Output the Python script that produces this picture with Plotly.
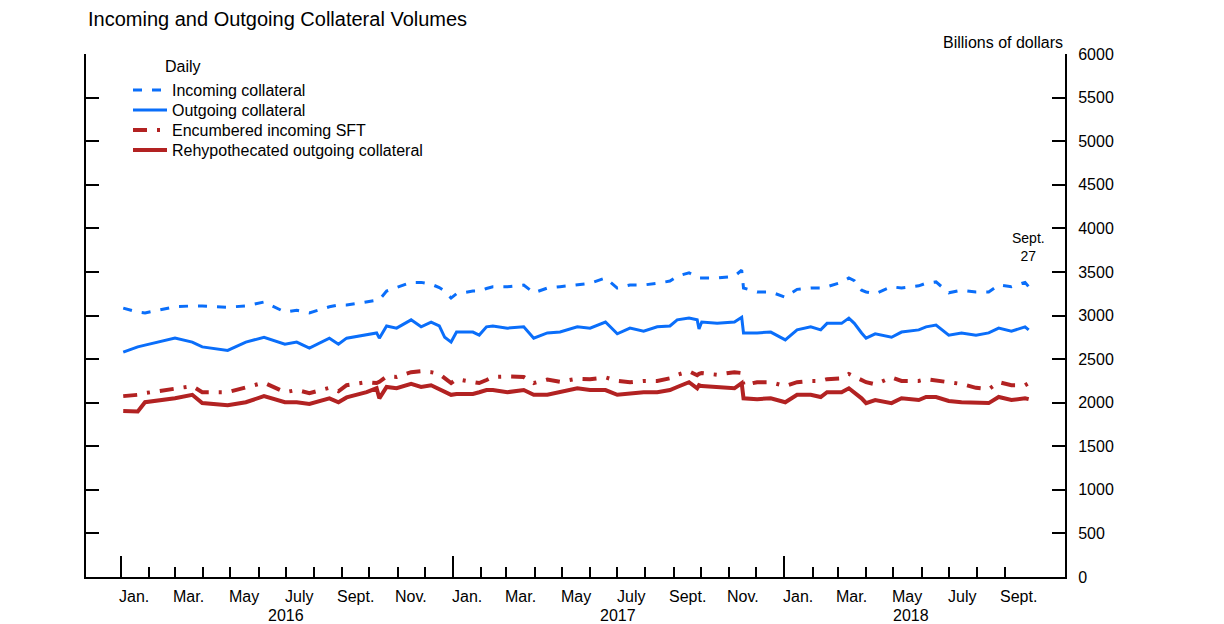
import pandas as pd
import plotly.graph_objects as go

# ---- data (billions of dollars) ----
dates = [
    "2016-01-04", "2016-01-20", "2016-01-28", "2016-03-01", "2016-03-20", "2016-03-31",
    "2016-04-28", "2016-05-18", "2016-06-07", "2016-06-30", "2016-07-13", "2016-07-27",
    "2016-08-18", "2016-08-28", "2016-09-06", "2016-09-28", "2016-10-09", "2016-10-12",
    "2016-10-20", "2016-10-31", "2016-11-16", "2016-11-27", "2016-12-08", "2016-12-17",
    "2016-12-23", "2016-12-30", "2017-01-05", "2017-01-23", "2017-01-30", "2017-02-07",
    "2017-02-14", "2017-03-02", "2017-03-20", "2017-03-31", "2017-04-15", "2017-04-29",
    "2017-05-18", "2017-06-01", "2017-06-18", "2017-07-01", "2017-07-15", "2017-07-30",
    "2017-08-14", "2017-08-28", "2017-09-05", "2017-09-18", "2017-09-27", "2017-09-29",
    "2017-10-02", "2017-10-19", "2017-11-07", "2017-11-15", "2017-11-17", "2017-12-02",
    "2017-12-17", "2018-01-02", "2018-01-15", "2018-01-30", "2018-02-10", "2018-02-17",
    "2018-03-05", "2018-03-13", "2018-03-19", "2018-03-27", "2018-04-01", "2018-04-11",
    "2018-04-29", "2018-05-10", "2018-05-29", "2018-06-06", "2018-06-17", "2018-07-01",
    "2018-07-15", "2018-07-31", "2018-08-14", "2018-08-25", "2018-09-08", "2018-09-23",
    "2018-09-27",
]

incoming = [
    3085, 3040, 3030, 3100, 3110, 3110, 3095, 3110, 3155, 3040, 3060, 3030,
    3100, 3120, 3120, 3160, 3180, 3180, 3280, 3320, 3380, 3380, 3360, 3320,
    3280, 3200, 3250, 3280, 3280, 3310, 3330, 3330, 3350, 3260, 3315, 3330,
    3350, 3370, 3430, 3315, 3350, 3350, 3370, 3395, 3450, 3490, 3440, 3430,
    3430, 3430, 3450, 3520, 3315, 3270, 3270, 3210, 3300, 3315, 3315, 3330,
    3380, 3430, 3400, 3290, 3270, 3250, 3330, 3315, 3340, 3370, 3385, 3260,
    3290, 3270, 3270, 3350, 3330, 3380, 3330,
]

outgoing = [
    2580, 2640, 2660, 2740, 2695, 2640, 2600, 2695, 2750, 2670, 2695, 2625,
    2740, 2670, 2740, 2775, 2800, 2740, 2880, 2855, 2950, 2870, 2925, 2880,
    2750, 2695, 2810, 2810, 2775, 2870, 2880, 2855, 2870, 2740, 2800, 2810,
    2870, 2855, 2925, 2790, 2855, 2820, 2870, 2880, 2950, 2970, 2950, 2845,
    2925, 2910, 2925, 2980, 2800, 2800, 2810, 2720, 2835, 2870, 2835, 2910,
    2910, 2970, 2910, 2800, 2740, 2790, 2750, 2810, 2835, 2870, 2890, 2775,
    2800, 2775, 2800, 2855, 2820, 2870, 2835,
]

encumbered = [
    2075, 2090, 2110, 2160, 2190, 2120, 2120, 2175, 2230, 2120, 2145, 2110,
    2170, 2130, 2200, 2235, 2225, 2240, 2300, 2295, 2350, 2360, 2350, 2330,
    2280, 2225, 2270, 2235, 2225, 2260, 2295, 2300, 2295, 2225, 2265, 2240,
    2275, 2270, 2290, 2250, 2235, 2250, 2250, 2280, 2320, 2360, 2315, 2330,
    2340, 2320, 2350, 2340, 2200, 2235, 2235, 2190, 2235, 2250, 2250, 2270,
    2280, 2330, 2300, 2250, 2235, 2210, 2290, 2250, 2250, 2270, 2255, 2225,
    2215, 2170, 2155, 2235, 2200, 2200, 2225,
]

rehypothecated = [
    1905, 1900, 2005, 2050, 2090, 1995, 1970, 2005, 2075, 2005, 2005, 1985,
    2050, 2005, 2060, 2120, 2165, 2050, 2180, 2165, 2215, 2180, 2200, 2150,
    2120, 2090, 2100, 2100, 2120, 2145, 2145, 2120, 2145, 2090, 2090, 2120,
    2165, 2145, 2145, 2090, 2110, 2120, 2120, 2145, 2180, 2235, 2165, 2200,
    2190, 2180, 2165, 2225, 2050, 2040, 2050, 2005, 2090, 2090, 2065, 2120,
    2120, 2165, 2120, 2050, 1995, 2030, 1995, 2050, 2030, 2065, 2065, 2020,
    2005, 2005, 1995, 2065, 2030, 2050, 2040,
]

series_names = ["Incoming collateral", "Outgoing collateral",
                "Encumbered incoming SFT", "Rehypothecated outgoing collateral"]

month_label_dates = ["2016-01-16", "2016-03-16", "2016-05-16", "2016-07-16", "2016-09-16", "2016-11-16",
                     "2017-01-16", "2017-03-16", "2017-05-16", "2017-07-16", "2017-09-16", "2017-11-16",
                     "2018-01-16", "2018-03-16", "2018-05-16", "2018-07-16", "2018-09-16"]
month_labels = ["Jan.", "Mar.", "May", "July", "Sept.", "Nov."] * 2 + ["Jan.", "Mar.", "May", "July", "Sept."]
year_label_dates = ["2016-07-01", "2017-07-02", "2018-05-20"]
year_labels = ["2016", "2017", "2018"]
year_starts = ["2016-01-01", "2017-01-01", "2018-01-01"]

BLUE = "#0A6EFA"
RED = "#B22222"
FONT = "Liberation Sans, Arial, sans-serif"

styles = [
    dict(color=BLUE, width=3, dash="9px,10px"),
    dict(color=BLUE, width=3),
    dict(color=RED, width=4, dash="14px,10px,3px,10px"),
    dict(color=RED, width=4),
]
values = [incoming, outgoing, encumbered, rehypothecated]
legend_ids = ["legend", "legend2", "legend3", "legend4"]

fig = go.Figure()
for name, vals, st, lg in zip(series_names, values, styles, legend_ids):
    fig.add_trace(go.Scatter(x=dates, y=vals, name=name, mode="lines", line=st, legend=lg))

minor_ticks = [d.strftime("%Y-%m-%d") for d in pd.date_range("2016-02-01", "2018-09-01", freq="MS")]

W, H = 1216, 616  # page body has an 8px margin in the 1224x624 window
PLOT_H = 523

legend_layout = {}
for i, lg in enumerate(legend_ids):
    legend_layout[lg] = dict(x=(128 - 86) / 979, y=1 - (19 + 20 * i) / PLOT_H,
                             xanchor="left", yanchor="top", bgcolor="rgba(0,0,0,0)",
                             font=dict(size=16), itemwidth=34)

fig.update_layout(
    width=W, height=H,
    margin=dict(l=78, r=159, t=46, b=47),
    paper_bgcolor="white", plot_bgcolor="white",
    font=dict(family=FONT, size=16, color="black"),
    showlegend=True,
    title=dict(text="Incoming and Outgoing Collateral Volumes", x=80 / W, xanchor="left",
               xref="container", y=1 - 11 / H, yanchor="middle", yref="container",
               font=dict(size=20)),
    xaxis=dict(type="date", range=["2015-11-24", "2018-11-06"],
               showgrid=False, zeroline=False, showline=True, linecolor="black", linewidth=2,
               tickmode="array", tickvals=year_starts, ticks="inside", ticklen=21,
               tickwidth=2, tickcolor="black", showticklabels=False,
               minor=dict(tickmode="array", tickvals=minor_ticks, ticks="inside",
                          ticklen=10, tickwidth=2, tickcolor="black", showgrid=False)),
    yaxis=dict(range=[0, 6000], side="right", dtick=500, tick0=0,
               showgrid=False, zeroline=False, showline=True, linecolor="black", linewidth=2,
               mirror="ticks", ticks="inside", ticklen=13, tickwidth=2, tickcolor="black",
               tickfont=dict(size=16), ticklabelstandoff=8),
    **legend_layout,
)

ann = []
for d, t in zip(month_label_dates, month_labels):
    ann.append(dict(x=d, y=0, xref="x", yref="paper", text=t, showarrow=False,
                    yanchor="middle", yshift=-19, font=dict(size=16)))
for d, t in zip(year_label_dates, year_labels):
    ann.append(dict(x=d, y=0, xref="x", yref="paper", text=t, showarrow=False,
                    yanchor="middle", yshift=-38, font=dict(size=16)))
ann.append(dict(x=1, y=1, xref="paper", yref="paper", text="Billions of dollars",
                showarrow=False, xanchor="right", yanchor="bottom", yshift=1,
                font=dict(size=16)))
ann.append(dict(x=dates[-1], y=3500, xref="x", yref="y", text="Sept.<br>27",
                showarrow=False, xanchor="center", yanchor="bottom", yshift=6,
                font=dict(size=14)))
ann.append(dict(x=(163 - 86) / 979, y=1 - 12 / PLOT_H, xref="paper", yref="paper", text="Daily",
                showarrow=False, xanchor="left", yanchor="middle", font=dict(size=16)))
fig.update_layout(annotations=ann)

fig.write_html("out.html")
